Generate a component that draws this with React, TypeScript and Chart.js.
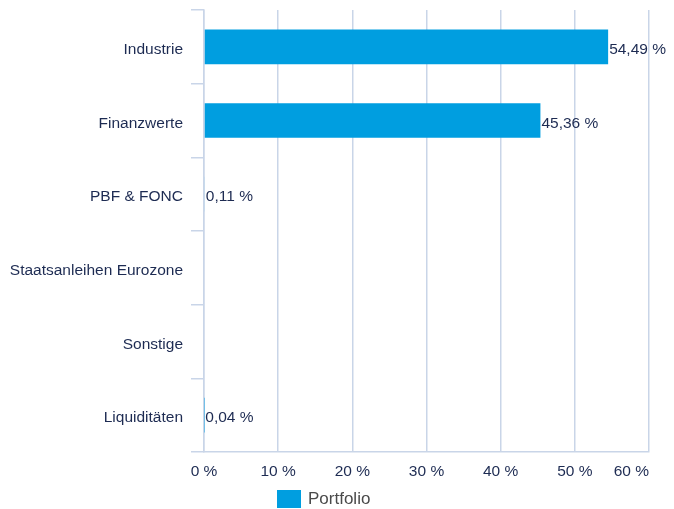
import React, { useEffect, useRef } from "react";
import { Chart, registerables } from "chart.js";

Chart.register(...registerables);

const categories: string[] = [
  "Industrie",
  "Finanzwerte",
  "PBF & FONC",
  "Staatsanleihen Eurozone",
  "Sonstige",
  "Liquiditäten",
];
const portfolioValues: (number | null)[] = [54.49, 45.36, 0.11, null, null, 0.04];
const seriesLabel = "Portfolio";
const xMin = 0;
const xMax = 60;
const xStep = 10;

const BAR_COLOR = "#009ee0";
const GRID_COLOR = "#c9d5e8";
const TEXT_COLOR = "#1d2b52";
const FONT_FAMILY = "'Liberation Sans', Arial, Helvetica, sans-serif";
const FONT_SIZE = 15.5;

const fmt = (v: number) => v.toFixed(2).replace(".", ",") + " %";

const dataLabelPlugin = {
  id: "dataLabels",
  afterDatasetsDraw(chart: any) {
    const ctx = chart.ctx;
    ctx.save();
    ctx.font = `${FONT_SIZE}px ${FONT_FAMILY}`;
    ctx.fillStyle = TEXT_COLOR;
    ctx.textAlign = "left";
    ctx.textBaseline = "middle";
    chart.data.datasets.forEach((ds: any, di: number) => {
      const meta = chart.getDatasetMeta(di);
      meta.data.forEach((el: any, i: number) => {
        const v = ds.data[i];
        if (v === null || v === undefined) return;
        ctx.fillText(fmt(v), el.x + 1, el.y + 3);
      });
    });
    ctx.restore();
  },
};

const xLabelPlugin = {
  id: "xLabels",
  afterDraw(chart: any) {
    const scale = chart.scales.x;
    const ctx = chart.ctx;
    ctx.save();
    ctx.font = `${FONT_SIZE}px ${FONT_FAMILY}`;
    ctx.fillStyle = TEXT_COLOR;
    ctx.textBaseline = "middle";
    const n = scale.ticks.length;
    scale.ticks.forEach((t: any, i: number) => {
      const x = scale.getPixelForValue(t.value);
      const label = `${t.value} %`;
      ctx.textAlign = i === n - 1 ? "right" : "center";
      ctx.fillText(label, x, scale.top + 20);
    });
    ctx.restore();
  },
};

const legendPlugin = {
  id: "customLegend",
  afterDraw(chart: any) {
    const ctx = chart.ctx;
    const ds = chart.data.datasets[0];
    const bx = 269;
    const by = 482;
    ctx.save();
    ctx.fillStyle = ds.backgroundColor;
    ctx.fillRect(bx, by, 24, 18);
    ctx.font = `17px ${FONT_FAMILY}`;
    ctx.fillStyle = "#4a4a4a";
    ctx.textAlign = "left";
    ctx.textBaseline = "middle";
    ctx.fillText(ds.label, bx + 31, by + 9);
    ctx.restore();
  },
};

export default function App() {
  const ref = useRef<HTMLCanvasElement | null>(null);
  useEffect(() => {
    if (!ref.current) return;
    const chart = new Chart(ref.current, {
      type: "bar",
      data: {
        labels: categories,
        datasets: [
          {
            label: seriesLabel,
            data: portfolioValues as any,
            backgroundColor: BAR_COLOR,
            borderWidth: 0,
            barPercentage: 0.47,
            categoryPercentage: 1,
          },
        ],
      },
      options: {
        indexAxis: "y",
        animation: false,
        responsive: true,
        maintainAspectRatio: false,
        layout: { padding: { top: 2, right: 25, left: 0, bottom: 0 } },
        plugins: {
          legend: { display: false },
          tooltip: { enabled: false },
        },
        scales: {
          x: {
            min: xMin,
            max: xMax,
            ticks: {
              stepSize: xStep,
              color: "rgba(0,0,0,0)",
              padding: 12,
              font: { size: FONT_SIZE, family: FONT_FAMILY },
              callback: (v: any) => `${v} %`,
            },
            grid: { color: GRID_COLOR, drawTicks: false, lineWidth: 1.5 },
            border: { color: GRID_COLOR, width: 1.5 },
            afterFit: (scale: any) => {
              scale.height = 57;
              scale.paddingLeft = 0;
              scale.paddingRight = 0;
              scale.paddingTop = 0;
              scale.paddingBottom = 0;
            },
          },
          y: {
            offset: true,
            ticks: {
              color: TEXT_COLOR,
              padding: 8,
              labelOffset: 3,
              font: { size: FONT_SIZE, family: FONT_FAMILY },
            },
            grid: {
              color: GRID_COLOR,
              drawOnChartArea: false,
              drawTicks: true,
              tickLength: 13,
              lineWidth: 1.5,
            },
            border: { color: GRID_COLOR, width: 1.5 },
            afterFit: (scale: any) => {
              scale.width = 196;
              scale.paddingLeft = 0;
              scale.paddingRight = 0;
              scale.paddingTop = 0;
              scale.paddingBottom = 0;
            },
          },
        },
      },
      plugins: [dataLabelPlugin, xLabelPlugin, legendPlugin],
    });
    return () => chart.destroy();
  }, []);
  return (
    <div style={{ width: 666, height: 501, position: "relative" }}>
      <canvas ref={ref} />
    </div>
  );
}
